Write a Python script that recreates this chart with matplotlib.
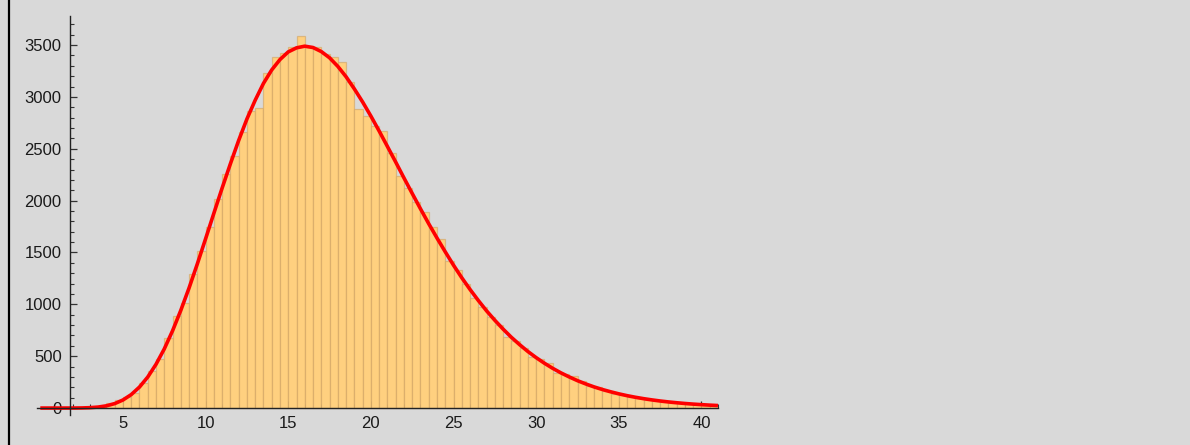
import matplotlib
matplotlib.use("Agg")
import matplotlib.pyplot as plt
import numpy as np
from matplotlib.lines import Line2D
from matplotlib.ticker import FixedLocator

# ---- data ----
bin_start = 2.0
bin_width = 0.5
counts = [1, 2, 5, 14, 45, 77, 107, 145, 238, 358,
          471, 672, 887, 1012, 1289, 1511, 1749, 2015, 2257, 2430,
          2666, 2860, 2896, 3227, 3388, 3420, 3477, 3585, 3484, 3480,
          3410, 3381, 3340, 3147, 2880, 2813, 2716, 2671, 2456, 2237,
          2121, 1986, 1890, 1749, 1627, 1418, 1331, 1196, 1058, 977,
          877, 805, 682, 650, 580, 497, 475, 431, 334, 331,
          309, 263, 212, 206, 162, 133, 125, 103, 93, 77,
          67, 61, 45, 45, 39, 35, 29, 25]

# fitted density curve, sampled every 0.5
curve_x = [0.0, 0.5, 1.0, 1.5, 2.0, 2.5, 3.0, 3.5, 4.0, 4.5,
           5.0, 5.5, 6.0, 6.5, 7.0, 7.5, 8.0, 8.5, 9.0, 9.5,
           10.0, 10.5, 11.0, 11.5, 12.0, 12.5, 13.0, 13.5, 14.0, 14.5,
           15.0, 15.5, 16.0, 16.5, 17.0, 17.5, 18.0, 18.5, 19.0, 19.5,
           20.0, 20.5, 21.0, 21.5, 22.0, 22.5, 23.0, 23.5, 24.0, 24.5,
           25.0, 25.5, 26.0, 26.5, 27.0, 27.5, 28.0, 28.5, 29.0, 29.5,
           30.0, 30.5, 31.0, 31.5, 32.0, 32.5, 33.0, 33.5, 34.0, 34.5,
           35.0, 35.5, 36.0, 36.5, 37.0, 37.5, 38.0, 38.5, 39.0, 39.5,
           40.0, 40.5, 41.0]
curve_y = [0, 0, 0.0015, 0.029, 0.23, 1.06, 3.6, 9.5, 21.5, 42.9,
           77.7, 129.7, 202.6, 299, 421.8, 570, 744.5, 942, 1158, 1390,
           1632, 1878, 2121, 2355, 2580, 2787, 2968, 3130, 3260, 3360,
           3434, 3473, 3489, 3476, 3437, 3377, 3294, 3194, 3077, 2951,
           2815, 2671, 2522, 2372, 2219, 2069, 1921, 1777, 1639, 1506,
           1377, 1256, 1143, 1037, 937, 846, 761, 682, 611, 545,
           486, 432, 383, 339, 300, 264, 232.5, 204, 179, 157,
           137, 119.4, 104, 90.5, 78.6, 68.1, 59, 51.1, 44, 38.0,
           32.7, 28.1, 24.2]

x_major_ticks = [5, 10, 15, 20, 25, 30, 35, 40]
y_major_ticks = [0, 500, 1000, 1500, 2000, 2500, 3000, 3500]

# ---- figure ----
BG = "#d9d9d9"
plt.rcParams["font.family"] = ["Liberation Sans", "DejaVu Sans"]
fig = plt.figure(figsize=(11.9, 4.45), dpi=100, facecolor=BG)
ax = fig.add_axes([37 / 1190, 30 / 445, 681 / 1190, 399 / 445])
ax.set_facecolor(BG)

edges = bin_start + bin_width * np.arange(len(counts))
ax.bar(edges, counts, width=bin_width, align="edge",
       facecolor="#ffd07f", edgecolor=(0.82, 0.64, 0.38, 0.6),
       linewidth=0.9, zorder=2)

ax.plot(curve_x, curve_y, color="#ff0000", linewidth=2.6,
        solid_joinstyle="round", solid_capstyle="butt", zorder=3)

ax.set_xlim(-0.2, 41.0)
ax.set_ylim(-67, 3780)

for s in ("top", "right"):
    ax.spines[s].set_visible(False)
ax.spines["left"].set_position(("data", 1.8))
ax.spines["bottom"].set_position(("data", 0))
for s in ("left", "bottom"):
    ax.spines[s].set_color("#222222")
    ax.spines[s].set_linewidth(1.0)
    ax.spines[s].set_zorder(4)

ax.xaxis.set_major_locator(FixedLocator(x_major_ticks))
ax.xaxis.set_minor_locator(FixedLocator([v for v in range(2, 42) if v % 5 != 0]))
ax.yaxis.set_major_locator(FixedLocator(y_major_ticks))
ax.yaxis.set_minor_locator(FixedLocator([v for v in range(100, 3800, 100) if v % 500 != 0]))

ax.tick_params(which="both", direction="in", color="#333333", zorder=5)
ax.tick_params(which="major", length=5, width=0.9, labelsize=12,
               labelcolor="#1a1a1a", pad=6)
ax.tick_params(which="minor", length=3, width=0.8)

# left frame line
fig.add_artist(Line2D([8.5 / 1190, 8.5 / 1190], [0, 1], color="black",
                      linewidth=1.6, transform=fig.transFigure))

fig.savefig("out.png", dpi=100, facecolor=BG)
